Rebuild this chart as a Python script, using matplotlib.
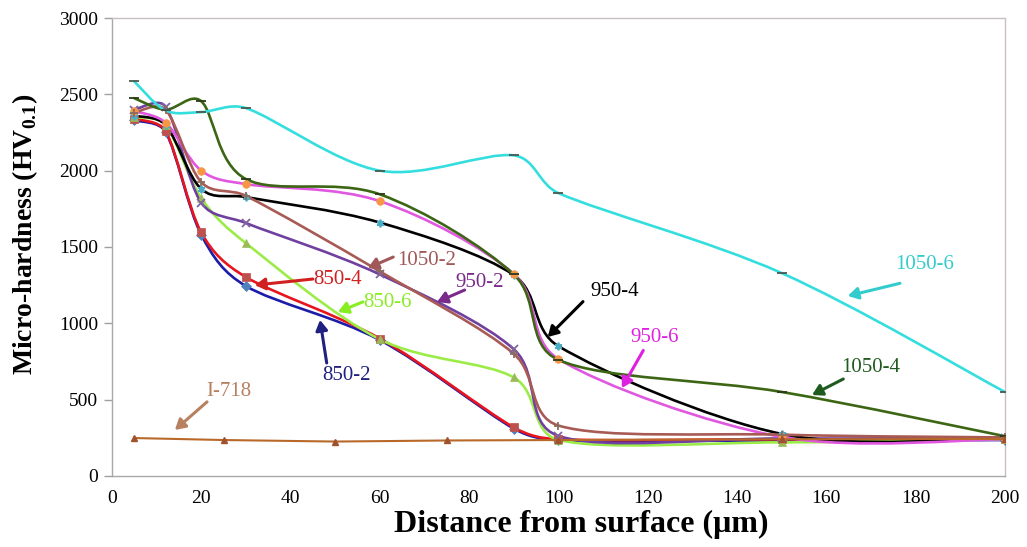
import matplotlib
matplotlib.use('Agg')
import matplotlib.pyplot as plt
from matplotlib.path import Path
from matplotlib.patches import PathPatch
import numpy as np

plt.rcParams['font.family'] = 'Liberation Serif'
plt.rcParams['mathtext.fontset'] = 'custom'
plt.rcParams['mathtext.rm'] = 'Liberation Serif'
plt.rcParams['mathtext.bf'] = 'Liberation Serif:bold'

# measurement depths (um)
depth = [5, 12, 20, 30, 60, 90, 100, 150, 200]

hv_850_2 = [2330, 2255, 1580, 1244, 890, 310, 235, 232, 235]
hv_850_4 = [2340, 2260, 1595, 1303, 900, 318, 240, 240, 242]
hv_850_6 = [2350, 2300, 1820, 1525, 895, 645, 236, 220, 240]
hv_950_2 = [2400, 2420, 1790, 1657, 1320, 830, 262, 245, 250]
hv_950_4 = [2360, 2300, 1880, 1827, 1660, 1316, 850, 275, 245]
hv_950_6 = [2390, 2315, 2000, 1912, 1800, 1323, 766, 255, 240]
hv_1050_2 = [2380, 2400, 1925, 1835, 1340, 800, 330, 270, 252]
hv_1050_4 = [2475, 2400, 2455, 1945, 1845, 1320, 760, 550, 260]
hv_1050_6 = [2585, 2395, 2384, 2410, 2000, 2100, 1853, 1329, 550]

# base alloy
depth_718 = [5, 25, 50, 75, 100, 150, 200]
hv_718 = [248, 235, 225, 232, 235, 240, 242]

# name, values, line colour, marker, marker colour
series = [
    ('850-2', hv_850_2, '#1c1ca8', 'D', '#4F81BD'),
    ('850-4', hv_850_4, '#e8141e', 's', '#C0504D'),
    ('850-6', hv_850_6, '#9cec48', '^', '#9BBB59'),
    ('950-2', hv_950_2, '#7040a0', 'x', '#8064A2'),
    ('950-4', hv_950_4, '#000000', (6, 2, 0), '#4BACC6'),
    ('950-6', hv_950_6, '#e058e0', 'o', '#F79646'),
    ('1050-2', hv_1050_2, '#a85a55', '+', '#8a6d5e'),
    ('1050-4', hv_1050_4, '#3c6614', '_', '#2a3a18'),
    ('1050-6', hv_1050_6, '#35dede', '_', '#4a5a50'),
]

# rough screen scale of one data unit, so arm clamping works in pixel space
SX, SY = 4.465, 0.1527


def smooth_path(x, y):
    # smoothed line: cubic Bezier with 1/6 tangent arms, arms kept short on
    # short segments so steep drops don't kink back
    pts = np.column_stack([np.asarray(x) * SX, np.asarray(y) * SY]).astype(float)
    n = len(pts)
    verts = [pts[0]]
    codes = [Path.MOVETO]

    def clamp(arm, seg):
        lim = 0.38 * seg
        L = np.hypot(*arm)
        return arm if L <= lim else arm * lim / L

    for i in range(n - 1):
        p0 = pts[i - 1] if i > 0 else pts[i]
        p1 = pts[i]
        p2 = pts[i + 1]
        p3 = pts[i + 2] if i + 2 < n else pts[i + 1]
        seg = np.hypot(*(p2 - p1))
        a1 = clamp((p2 - p0) / 6.0, seg)
        a2 = clamp((p3 - p1) / 6.0, seg)
        verts += [p1 + a1, p2 - a2, p2]
        codes += [Path.CURVE4] * 3
    verts = np.array(verts) / np.array([SX, SY])
    return Path(verts, codes)


fig = plt.figure(figsize=(10.27, 5.47), dpi=100)
ax = fig.add_axes([0.109, 0.130, 0.8695, 0.837])

for name, vals, lc, mk, mc in series:
    ax.add_patch(PathPatch(smooth_path(depth, vals), facecolor='none',
                           edgecolor=lc, lw=1.9, capstyle='round'))
    ax.plot(depth, vals, ls='none', marker=mk, color=mc, ms=5.5 if mk != '_' else 7,
            mew=1.3 if mk in ('x', '+', '_', (6, 2, 0)) else 0.5, zorder=3)

ax.plot(depth_718, hv_718, color='#b8692a', lw=1.5, marker='^', ms=4.5,
        mfc='#a0522d', mec='#a0522d', zorder=3)

ax.set_xlim(0, 200)
ax.set_ylim(0, 3000)
ax.set_xticks(np.arange(0, 201, 20))
ax.set_yticks(np.arange(0, 3001, 500))
ax.tick_params(axis='x', length=0, pad=10, labelsize=14)
ax.tick_params(axis='y', length=6, width=1, color='#a0a0a0', pad=4, labelsize=14)

for side in ('left', 'bottom'):
    ax.spines[side].set_color('#a8a8a8')
    ax.spines[side].set_linewidth(1.0)
for side in ('top', 'right'):
    ax.spines[side].set_color('#c8c0c0')
    ax.spines[side].set_linestyle((0, (1, 1)))
    ax.spines[side].set_linewidth(1.0)

ax.set_xlabel('Distance from surface (\u03bcm)', fontsize=23, fontweight='bold')
ax.xaxis.set_label_coords(0.525, -0.075)
ax.set_ylabel(r'Micro-hardness (HV$_{\mathbf{0.1}}$)', fontsize=20, fontweight='bold')
ax.yaxis.set_label_coords(-0.081, 0.528)

# curve labels with arrows: text, text pos, arrow tail, arrow head, colour
labels = [
    ('1050-6', (182, 1382), (176.5, 1262), (164.8, 1179), '#33cccc'),
    ('950-4', (112.5, 1205), (105.5, 1142), (97.6, 910), '#000000'),
    ('950-6', (121.6, 904), (119, 822), (114.2, 576), '#e020e0'),
    ('1050-4', (170, 707), (163.8, 635), (156.8, 530), '#1f5a1f'),
    ('1050-2', (70.5, 1414), (63, 1434), (57.3, 1362), '#a05858'),
    ('950-2', (82.4, 1270), (79, 1218), (72.8, 1139), '#7a2a8a'),
    ('850-4', (50.6, 1290), (45, 1290), (32, 1250), '#d02020'),
    ('850-6', (61.8, 1133), (56.2, 1140), (50.6, 1074), '#88ee22'),
    ('850-2', (52.6, 661), (48.1, 740), (46.6, 1022), '#202080'),
    ('I-718', (26.2, 550), (21.3, 485), (14.1, 301), '#b88060'),
]
for txt, tpos, tail, head, col in labels:
    ax.text(tpos[0], tpos[1], txt, fontsize=15, color=col, ha='center', va='center')
    ax.annotate('', xy=head, xytext=tail,
                arrowprops=dict(arrowstyle='-|>,head_length=0.6,head_width=0.35',
                                color=col, lw=2.2, shrinkA=0, shrinkB=0))

fig.savefig('out.png', dpi=100, facecolor='white')
